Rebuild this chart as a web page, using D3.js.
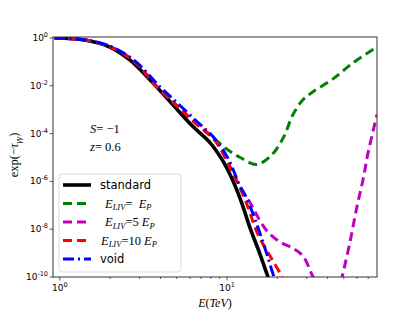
<!DOCTYPE html>
<html>
<head>
  <script src="https://d3js.org/d3.v7.min.js"></script>
  <style>
    body { margin: 0; background: #fff; }
    svg { display: block; }
    .serif { font-family: "Liberation Serif", "DejaVu Serif", serif; }
  </style>
</head>
<body>
  <svg id="chart" width="419" height="313"></svg>

  <script>
    // Energies (TeV) and attenuation exp(-tau)
    const stdE   = [0.93, 1.41, 1.99, 2.62, 3.46, 4.75, 6.26, 7.91, 9.33, 10.7, 12.1, 13.7, 15.6, 17.6, 18.6];
    const stdV   = [1, 0.83, 0.42, 0.121, 0.0178, 1.6e-3, 1.96e-4, 4.2e-5, 8.3e-6, 1.33e-6, 1.6e-7, 1.2e-8, 1.1e-9, 1e-10, 3.6e-11];

    const voidE  = [0.93, 1.41, 1.99, 2.81, 3.97, 5.09, 6.61, 8.24, 10, 12, 13.2, 16.2, 19.1, 20.2];
    const voidV  = [1, 0.83, 0.46, 0.11, 9.1e-3, 1.8e-3, 3.2e-4, 7.5e-5, 1.1e-5, 6.2e-7, 1.8e-7, 3.8e-9, 1e-10, 3e-11];

    const liv10E = [0.93, 1.41, 1.99, 2.81, 3.81, 4.95, 6.43, 8.47, 10.4, 12.8, 15.3, 18.1, 21.3, 22.5];
    const liv10V = [1, 0.83, 0.44, 0.1, 9.1e-3, 1.6e-3, 2.9e-4, 5.2e-5, 4.2e-6, 1.8e-7, 6.2e-9, 7.5e-10, 1e-10, 3e-11];

    const liv1E  = [0.93, 1.41, 1.99, 2.81, 3.81, 4.95, 6.43, 8.24, 10, 12, 15.1, 18.6, 21.9, 24.8, 28.5, 32.7, 43.1, 56.8, 79];
    const liv1V  = [1, 0.83, 0.44, 0.1, 9.1e-3, 1.6e-3, 2.9e-4, 6.8e-5, 2.2e-5, 1e-5, 5.1e-6, 1.33e-5, 7.5e-5, 6.2e-4, 2.6e-3, 5.6e-3, 0.0195, 0.091, 0.42];

    const liv5E  = [0.93, 1.41, 1.99, 2.81, 3.81, 4.95, 6.43, 8.47, 10.4, 12, 13.7, 15.1, 17.4, 20.8, 24.8, 28.5, 32.7, 36, 41.4, 46.2, 48.8, 54.6, 60, 65.2, 69.9, 79];
    const liv5V  = [1, 0.83, 0.44, 0.1, 9.1e-3, 1.6e-3, 2.9e-4, 5.2e-5, 4.2e-6, 5.6e-7, 1.33e-7, 3.8e-8, 8.3e-9, 2.9e-9, 1.6e-9, 7.5e-10, 1e-10, 2.6e-11, 1.2e-11, 2.6e-11, 1e-10, 3.2e-9, 9.1e-8, 1.2e-6, 1.6e-5, 6.2e-4];

    const yTicks = [1, 1e-2, 1e-4, 1e-6, 1e-8, 1e-10];
    const yTickExp = ['0', '-2', '-4', '-6', '-8', '-10'];
    const xTicks = [1, 10];
    const xTickExp = ['0', '1'];

    const svg = d3.select('#chart');
    const m = { left: 53, right: 377, top: 37, bottom: 277 };

    const x = d3.scaleLog().domain([0.91, 79]).range([m.left, m.right]);
    const y = d3.scaleLog().domain([1e-10, 1.1]).range([m.bottom, m.top]);

    svg.append('clipPath').attr('id', 'clip')
      .append('rect').attr('x', m.left).attr('y', m.top)
      .attr('width', m.right - m.left).attr('height', m.bottom - m.top);

    const line = d3.line()
      .x(d => x(d[0]))
      .y(d => y(d[1]))
      .curve(d3.curveCatmullRom.alpha(0.5));

    const series = [
      { e: stdE, v: stdV, color: '#000000', width: 3.6, dash: null },
      { e: liv1E, v: liv1V, color: '#008000', width: 3, dash: '9,5' },
      { e: liv5E, v: liv5V, color: '#bf00bf', width: 3, dash: '9,5' },
      { e: liv10E, v: liv10V, color: '#ff0000', width: 3, dash: '9,5' },
      { e: voidE, v: voidV, color: '#0000ff', width: 3, dash: '11,4,2,4' }
    ];

    const plot = svg.append('g').attr('clip-path', 'url(#clip)');
    series.forEach(s => {
      plot.append('path')
        .datum(d3.zip(s.e, s.v))
        .attr('d', line)
        .attr('fill', 'none')
        .attr('stroke', s.color)
        .attr('stroke-width', s.width)
        .attr('stroke-dasharray', s.dash);
    });

    // frame
    svg.append('rect')
      .attr('x', m.left).attr('y', m.top)
      .attr('width', m.right - m.left).attr('height', m.bottom - m.top)
      .attr('fill', 'none').attr('stroke', '#333').attr('stroke-width', 1);

    // x ticks
    const xMinor = [];
    for (const dec of [1, 10]) for (let k = 2; k <= 9; k++) if (k * dec <= 79) xMinor.push(k * dec);
    svg.selectAll('.xminor').data(xMinor).join('line')
      .attr('x1', d => x(d)).attr('x2', d => x(d))
      .attr('y1', m.bottom).attr('y2', m.bottom + 2)
      .attr('stroke', '#333').attr('stroke-width', 0.8);
    svg.selectAll('.xmajor').data(xTicks).join('line')
      .attr('x1', d => x(d)).attr('x2', d => x(d))
      .attr('y1', m.bottom).attr('y2', m.bottom + 3.5)
      .attr('stroke', '#333').attr('stroke-width', 0.8);
    const xl = svg.selectAll('.xlab').data(xTicks).join('text')
      .attr('x', d => x(d)).attr('y', 291)
      .attr('text-anchor', 'middle')
      .attr('font-family', 'DejaVu Sans, sans-serif').attr('font-size', 9);
    xl.append('tspan').text('10');
    xl.append('tspan').attr('dy', -4).attr('font-size', 6.5).text((d, i) => xTickExp[i]);

    // y ticks
    svg.selectAll('.ymajor').data(yTicks).join('line')
      .attr('x1', m.left - 3.5).attr('x2', m.left)
      .attr('y1', d => y(d)).attr('y2', d => y(d))
      .attr('stroke', '#333').attr('stroke-width', 0.8);
    const yl = svg.selectAll('.ylab').data(yTicks).join('text')
      .attr('x', 48).attr('y', d => y(d) + 3)
      .attr('text-anchor', 'end')
      .attr('font-family', 'DejaVu Sans, sans-serif').attr('font-size', 9);
    yl.append('tspan').text('10');
    yl.append('tspan').attr('dy', -4).attr('font-size', 6.5).text((d, i) => yTickExp[i]);

    // axis labels
    svg.append('text').attr('class', 'serif')
      .attr('x', (m.left + m.right) / 2).attr('y', 307)
      .attr('text-anchor', 'middle').attr('font-size', 12)
      .html('<tspan font-style="italic">E</tspan>(<tspan font-style="italic">TeV</tspan>)');

    svg.append('text').attr('class', 'serif')
      .attr('transform', `translate(18,${(m.top + m.bottom) / 2 - 2}) rotate(-90)`)
      .attr('text-anchor', 'middle').attr('font-size', 12.5)
      .html('exp(\u2212<tspan font-style="italic">\u03c4</tspan><tspan font-style="italic" font-size="8.5" dy="3">\u03b3\u03b3</tspan><tspan dy="-3">)</tspan>');

    // annotations
    svg.append('text').attr('class', 'serif')
      .attr('x', 90).attr('y', 133).attr('font-size', 12.5)
      .html('<tspan font-style="italic">S</tspan>= \u22121');
    svg.append('text').attr('class', 'serif')
      .attr('x', 90).attr('y', 151).attr('font-size', 12.5)
      .html('<tspan font-style="italic">z</tspan>= 0.6');

    // legend
    const lg = svg.append('g');
    lg.append('rect')
      .attr('x', 59).attr('y', 174).attr('width', 122).attr('height', 98)
      .attr('rx', 3).attr('fill', 'rgba(255,255,255,0.85)')
      .attr('stroke', '#d0d0d0').attr('stroke-width', 0.8);
    const legendRows = [0, 1, 2, 3, 4];
    const legendY = legendRows.map(i => 185 + i * 18.5);
    legendRows.forEach(i => {
      const s = series[i];
      lg.append('line')
        .attr('x1', 63).attr('x2', 91)
        .attr('y1', legendY[i]).attr('y2', legendY[i])
        .attr('stroke', s.color).attr('stroke-width', s.width)
        .attr('stroke-dasharray', s.dash);
    });
    lg.append('text').attr('x', 100).attr('y', legendY[0] + 4)
      .attr('font-family', 'DejaVu Sans, sans-serif').attr('font-size', 11.5)
      .text('standard');
    lg.append('text').attr('x', 100).attr('y', legendY[4] + 4)
      .attr('font-family', 'DejaVu Sans, sans-serif').attr('font-size', 11.5)
      .text('void');
    const livText = [
      { x: 105, rhs: '\u2002' },
      { x: 105, rhs: '5 ' },
      { x: 101, rhs: '10 ' }
    ];
    livText.forEach((t, k) => {
      lg.append('text').attr('class', 'serif')
        .attr('x', t.x).attr('y', legendY[k + 1] + 4).attr('font-size', 12.5)
        .html('<tspan font-style="italic">E</tspan><tspan font-style="italic" font-size="8.5" dy="2.5">LIV</tspan><tspan dy="-2.5">=' + t.rhs + '</tspan><tspan font-style="italic">E</tspan><tspan font-style="italic" font-size="8.5" dy="2.5">P</tspan>');
    });
  </script>
</body>
</html>
